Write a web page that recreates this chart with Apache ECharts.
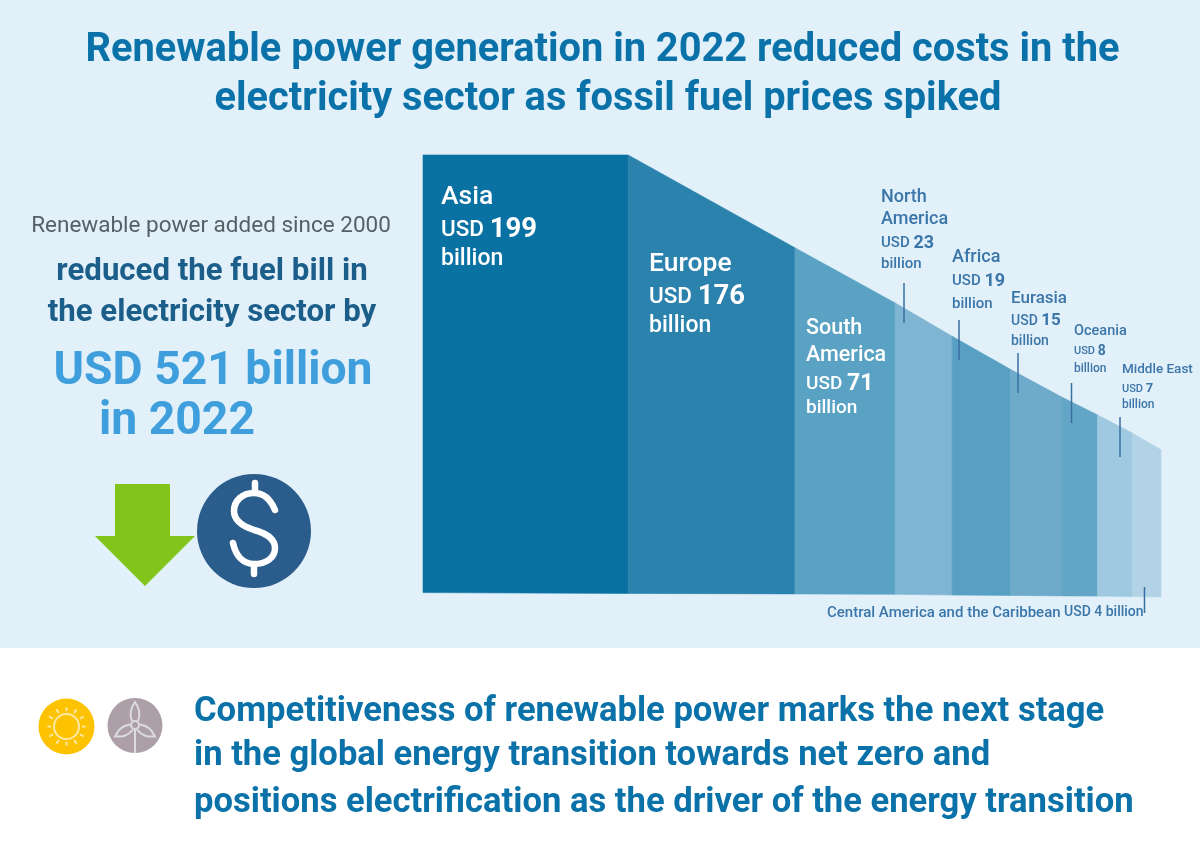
<!DOCTYPE html>
<html>
<head>
<meta charset="utf-8">
<title>Renewable power savings 2022</title>
<style>
  html, body { margin: 0; padding: 0; background: #fff; }
  #main { width: 1200px; height: 850px; }
</style>
<script src="https://cdn.jsdelivr.net/npm/echarts@6/dist/echarts.min.js"></script>
</head>
<body>
<div id="main"></div>
<script>
// regions and savings, USD billion
var regions = ['Asia', 'Europe', 'South\nAmerica', 'North\nAmerica', 'Africa', 'Eurasia', 'Oceania', 'Middle East', 'Central America and the Caribbean'];
var savings = [199, 176, 71, 23, 19, 15, 8, 7, 4];
// band width as share of the whole shape
var bandShare = [27.8, 22.6, 13.6, 7.7, 7.9, 7.0, 4.8, 4.7, 3.9];
// top and bottom outline at each band edge, in % of plot height
var edgeTop = [100, 100, 79, 66.5, 59, 51.5, 45.2, 41.2, 37.1, 33.3];
var edgeBottom = [1, 0.8, 0.7, 0.6, 0.45, 0.35, 0.25, 0.2, 0.1, 0];

var FONT = 'Roboto';
var bandColors = ['#0a72a3', '#2a82ad', '#5aa2c4', '#7fb5d3', '#58a0c3', '#6eabcb', '#62a5c6', '#9ec9e0', '#b1d3e5'];
var INK = '#3b76a9';
var LEADER = '#3a6fa0';

// where each label sits: x, y centre of every line, font sizes, leader line
var labelLayout = [
  { x: 441, ys: [197, 230, 259], fs: [26.5, 22.5, 27.5, 23], color: '#fff' },
  { x: 649, ys: [264, 297, 326], fs: [26.5, 22.5, 27.5, 23], color: '#fff' },
  { x: 806, ys: [329, 356, 384, 408], fs: [21.5, 19, 23, 19], color: '#fff' },
  { x: 881, ys: [197.5, 219.5, 243.5, 264.5], fs: [18, 15, 18, 15], color: INK, leader: [904, 283, 323] },
  { x: 952, ys: [257, 281.5, 304.5], fs: [18, 15, 18, 15], color: INK, leader: [959, 320, 360] },
  { x: 1011, ys: [298.5, 321, 341], fs: [17, 14, 17, 14], color: INK, leader: [1018, 353, 393] },
  { x: 1074, ys: [331, 351, 369], fs: [14.5, 11, 14, 12], color: INK, leader: [1071.5, 383, 423] },
  { x: 1122, ys: [370, 389, 405], fs: [13.5, 11, 13, 12], color: INK, leader: [1120, 417, 457] },
  { x: 827, ys: [613], fs: [15], color: INK, leader: [1144.5, 587, 613], inline: 1064 }
];

function textEl(str, x, y, size, color, weight) {
  return {
    type: 'text',
    z2: 10,
    style: {
      text: str, x: x, y: y, fill: color,
      font: (weight || 500) + ' ' + size + 'px ' + FONT,
      verticalAlign: 'middle', align: 'left'
    }
  };
}

function renderBand(params, api) {
  var i = params.dataIndex;
  var p = [
    api.coord([api.value(0), api.value(2)]),
    api.coord([api.value(1), api.value(3)]),
    api.coord([api.value(1), api.value(5)]),
    api.coord([api.value(0), api.value(4)])
  ];
  var lay = labelLayout[i];
  var kids = [{ type: 'polygon', shape: { points: p }, style: { fill: bandColors[i], stroke: bandColors[i], lineWidth: 0.6 } }];
  var value = savings[i];

  if (lay.inline) {
    kids.push(textEl(regions[i], lay.x, lay.ys[0], lay.fs[0], INK));
    kids.push(textEl('USD ' + value + ' billion', lay.inline, lay.ys[0] - 1, lay.fs[0] - 1, INK));
  } else {
    var names = regions[i].split('\n');
    var n = names.length;
    names.forEach(function (s, k) {
      kids.push(textEl(s, lay.x, lay.ys[k], lay.fs[0], lay.color));
    });
    kids.push({
      type: 'text',
      z2: 10,
      style: {
        text: '{u|USD }{v|' + value + '}',
        x: lay.x, y: lay.ys[n], verticalAlign: 'middle',
        rich: {
          u: { font: '500 ' + lay.fs[1] + 'px ' + FONT, fill: lay.color },
          v: { font: '700 ' + lay.fs[2] + 'px ' + FONT, fill: lay.color }
        }
      }
    });
    kids.push(textEl('billion', lay.x, lay.ys[n + 1], lay.fs[3], lay.color));
  }
  if (lay.leader) {
    kids.push({
      type: 'line',
      z2: 11,
      shape: { x1: lay.leader[0], y1: lay.leader[1], x2: lay.leader[0], y2: lay.leader[2] },
      style: { stroke: LEADER, lineWidth: 1.5 }
    });
  }
  return { type: 'group', children: kids };
}

// rows for the custom series: x from, x to, top L, top R, bottom L, bottom R
var rows = [];
var run = 0;
bandShare.forEach(function (w, i) {
  rows.push([run, run + w, edgeTop[i], edgeTop[i + 1], edgeBottom[i], edgeBottom[i + 1], savings[i]]);
  run += w;
});

// small pictograms, the graphic component has no path type so a custom series draws them
function renderIcons() {
  var kids = [];
  var strokePale = { fill: 'none', stroke: '#fde8a8', lineWidth: 2 };
  var strokeGrey = { fill: 'none', stroke: '#dcdcdc', lineWidth: 2 };

  // dollar sign
  kids.push({
    type: 'path',
    shape: { pathData: 'M275 510 C270 498 262 493 254 493 C242 493 234 501 234 511 C234 522 245 527 254 530 C265 533 275 538 275 548 C275 558 266 564 254 564 C244 564 236 557 233 543 M255 483 L255 493 M254 564 L254 574' },
    style: { fill: 'none', stroke: '#fff', lineWidth: 6.5, lineCap: 'round' }
  });

  // sun
  kids.push({ type: 'circle', shape: { cx: 66.5, cy: 726.5, r: 28 }, style: { fill: '#fdc300' } });
  kids.push({ type: 'circle', shape: { cx: 66.5, cy: 726.5, r: 12.5 }, style: strokePale });
  for (var a = 0; a < 12; a++) {
    var t = a * Math.PI / 6;
    var r2 = a % 3 ? 20 : 19;
    kids.push({
      type: 'line',
      shape: { x1: 66.5 + 15.5 * Math.cos(t), y1: 726.5 + 15.5 * Math.sin(t), x2: 66.5 + r2 * Math.cos(t), y2: 726.5 + r2 * Math.sin(t) },
      style: strokePale
    });
  }

  // wind turbine
  kids.push({ type: 'circle', shape: { cx: 135, cy: 725.5, r: 27.5 }, style: { fill: '#ac9fa7' } });
  kids.push({ type: 'line', shape: { x1: 135, y1: 730, x2: 135, y2: 753 }, style: strokeGrey });
  kids.push({ type: 'circle', shape: { cx: 135, cy: 725, r: 4 }, style: strokeGrey });
  [0, 120, 240].forEach(function (deg) {
    kids.push({
      type: 'path',
      originX: 135, originY: 725,
      rotation: -deg * Math.PI / 180,
      shape: { pathData: 'M132 721 C129 713 131 708 135 702 C139 708 141 713 138 721' },
      style: strokeGrey
    });
  });
  return { type: 'group', children: kids };
}

function leftText(str, x, y, size, color, weight) {
  return {
    type: 'text', x: x, y: y,
    style: { text: str, fill: color, font: weight + ' ' + size + 'px ' + FONT, textVerticalAlign: 'middle', textAlign: 'center' }
  };
}

function titleLine(str, x, y) {
  return {
    text: str, left: x, top: y, textAlign: 'center',
    textStyle: { fontFamily: FONT, fontWeight: 700, fontSize: 39.8, lineHeight: 49, color: '#0a72a8' }
  };
}

var dom = document.getElementById('main');
var myChart = echarts.init(dom, null, { renderer: 'canvas' });
var option = {
  animation: false,
  backgroundColor: '#fff',
  title: [
    titleLine('Renewable power generation in 2022 reduced costs in the', 597.5, 22),
    titleLine('electricity sector as fossil fuel prices spiked', 603, 70.5)
  ],
  grid: { left: 423, right: 39, top: 155, bottom: 253 },
  xAxis: { type: 'value', min: 0, max: 100, show: false },
  yAxis: { type: 'value', min: 0, max: 100, show: false },
  series: [{
    type: 'custom',
    coordinateSystem: 'cartesian2d',
    renderItem: renderBand,
    encode: { x: [0, 1], y: [2, 3] },
    data: rows,
    clip: false,
    silent: true,
    z: 5
  }, {
    type: 'custom',
    coordinateSystem: 'none',
    renderItem: renderIcons,
    data: [0],
    silent: true,
    z: 6
  }],
  graphic: [
    { type: 'rect', z: -10, shape: { x: 0, y: 0, width: 1200, height: 648 }, style: { fill: '#e2f0fa' } },
    leftText('Renewable power added since 2000', 211, 226, 22.5, '#555f66', 400),
    leftText('reduced the fuel bill in', 212, 272, 31.2, '#1b5e8a', 700),
    leftText('the electricity sector by', 212, 313, 31.2, '#1b5e8a', 700),
    leftText('USD 521 billion', 213, 372, 46.3, '#3f9fdc', 700),
    leftText('in 2022', 177, 422, 46.3, '#3f9fdc', 700),
    // arrow
    { type: 'polygon', shape: { points: [[115, 484], [170, 484], [170, 536], [195, 536], [145, 586], [95, 536], [115, 536]] }, style: { fill: '#82c51a' } },
    // dollar coin
    { type: 'circle', shape: { cx: 254, cy: 531, r: 57 }, style: { fill: '#2a5d8c' } },
    {
      type: 'group',
      children: [
        { t: 'Competitiveness of renewable power marks the next stage', y: 712 },
        { t: 'in the global energy transition towards net zero and', y: 756 },
        { t: 'positions electrification as the driver of the energy transition', y: 803 }
      ].map(function (l) {
        return {
          type: 'text', x: 194, y: l.y,
          style: { text: l.t, fill: '#0a72a8', font: '700 34.6px ' + FONT, textVerticalAlign: 'middle', textAlign: 'left' }
        };
      })
    }
  ]
};
myChart.setOption(option, true);
window.onresize = function () {
  myChart.resize();
};
</script>
</body>
</html>
